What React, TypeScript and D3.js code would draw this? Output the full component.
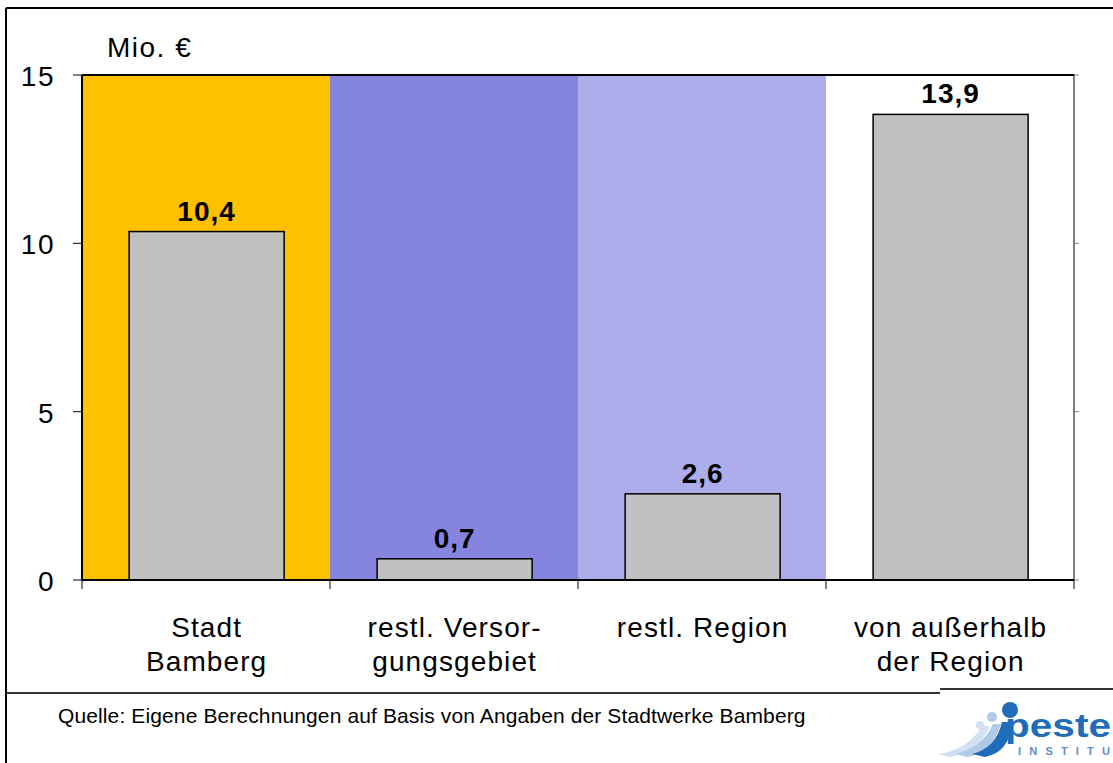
import * as React from 'react';
import * as d3 from 'd3';

// categories, values and band colours
const categories = ['Stadt Bamberg', 'restl. Versorgungsgebiet', 'restl. Region', 'von außerhalb der Region'];
const labelLines = [
  ['Stadt', 'Bamberg'],
  ['restl. Versor-', 'gungsgebiet'],
  ['restl. Region'],
  ['von außerhalb', 'der Region'],
];
// bar heights as drawn (labels are the rounded figures)
const values = [10.35, 0.63, 2.56, 13.83];
const valueLabels = ['10,4', '0,7', '2,6', '13,9'];
const bandColors = ['#FFC000', '#8585E0', '#ADADEB', '#FFFFFF'];
const yTicks = [0, 5, 10, 15];

const font = '"Liberation Sans", Arial, sans-serif';

const App = () => {
  const width = 1113;
  const height = 763;
  const plot = { left: 82, right: 1074, top: 75, bottom: 580 };

  // band scale for the coloured regions, bars sit inside each band
  const x = d3.scaleBand<string>()
    .domain(categories)
    .range([plot.left, plot.right])
    .padding(0);
  const y = d3.scaleLinear()
    .domain([0, 15])
    .range([plot.bottom, plot.top]);
  const barOffset = x.bandwidth() * 0.19;
  const barW = x.bandwidth() * 0.625;
  const mid = (c: string) => (x(c) as number) + barOffset + barW / 2;

  return (
    <svg width={width} height={height} style={{ position: 'absolute', left: 0, top: 0 }}>
      <rect x={0} y={0} width={width} height={height} fill="#fff" />

      {/* outer frame */}
      <line x1={6} x2={width} y1={8} y2={8} stroke="#000" strokeWidth={2} />
      <line x1={6} x2={6} y1={8} y2={height} stroke="#000" strokeWidth={2} />
      <line x1={6} x2={940} y1={693} y2={693} stroke="#333" strokeWidth={2} />
      <line x1={940} x2={width} y1={689} y2={689} stroke="#333" strokeWidth={2} />

      {/* background bands */}
      {categories.map((c, i) => (
        <rect key={c} x={x(c)} y={plot.top} width={x.bandwidth()} height={plot.bottom - plot.top}
          fill={bandColors[i]} />
      ))}

      {/* bars */}
      {categories.map((c, i) => (
        <rect key={c} x={(x(c) as number) + barOffset} y={y(values[i])}
          width={barW} height={plot.bottom - y(values[i])}
          fill="#C0C0C0" stroke="#000" strokeWidth={1.5} />
      ))}

      {/* value labels */}
      {categories.map((c, i) => (
        <text key={c} x={mid(c)} y={y(values[i]) - 11}
          textAnchor="middle" fontFamily={font} fontSize={28} fontWeight="bold" letterSpacing={1}>
          {valueLabels[i]}
        </text>
      ))}

      {/* right axis (grey) */}
      <line x1={plot.right} x2={plot.right} y1={plot.top - 1} y2={plot.bottom} stroke="#808080" strokeWidth={2} />
      {yTicks.map((t) => (
        <line key={t} x1={plot.right} x2={plot.right + 5} y1={y(t)} y2={y(t)} stroke="#808080" strokeWidth={1} />
      ))}

      {/* top line */}
      <line x1={plot.left} x2={plot.right} y1={plot.top} y2={plot.top} stroke="#000" strokeWidth={2} />

      {/* left axis */}
      <line x1={plot.left} x2={plot.left} y1={plot.top} y2={plot.bottom} stroke="#000" strokeWidth={2} />
      {yTicks.map((t) => (
        <g key={t}>
          <line x1={plot.left - 9} x2={plot.left} y1={y(t)} y2={y(t)} stroke="#000" strokeWidth={1} />
          <text x={55} y={y(t) + 11} textAnchor="end" fontFamily={font} fontSize={28} letterSpacing={1.5}>{t}</text>
        </g>
      ))}
      <text x={107} y={57} fontFamily={font} fontSize={28} letterSpacing={1.5}>Mio. €</text>

      {/* x axis */}
      <line x1={plot.left} x2={plot.right} y1={plot.bottom} y2={plot.bottom} stroke="#000" strokeWidth={2} />
      {categories.map((c) => (
        <line key={c} x1={x(c)} x2={x(c)} y1={plot.bottom} y2={plot.bottom + 9} stroke="#000" strokeWidth={1} />
      ))}
      <line x1={plot.right} x2={plot.right} y1={plot.bottom} y2={plot.bottom + 9} stroke="#000" strokeWidth={1} />
      {categories.map((c, i) => (
        <text key={c} x={mid(c)} y={637}
          textAnchor="middle" fontFamily={font} fontSize={28} letterSpacing={1.1}>
          {labelLines[i].map((l, j) => (
            <tspan key={l} x={mid(c)} dy={j === 0 ? 0 : 34}>{l}</tspan>
          ))}
        </text>
      ))}

      {/* source */}
      <text x={58} y={723} fontFamily={font} fontSize={21} letterSpacing={0.12}>
        Quelle: Eigene Berechnungen auf Basis von Angaben der Stadtwerke Bamberg
      </text>

      {/* logo */}
      <g>
        <path d="M938,754 Q968,750 982,726 L990,726 Q978,752 950,757 Z" fill="#D3E0F1" />
        <path d="M955,754 Q982,748 993,724 L1001,724 Q992,753 967,757 Z" fill="#B1CAE8" />
        <path d="M972,754 Q996,748 1002,722 L1012,722 Q1010,752 985,757 Z" fill="#1F6DB8" />
        <circle cx={980} cy={725} r={4} fill="#D3E0F1" />
        <circle cx={992} cy={717} r={5} fill="#B1CAE8" />
        <circle cx={1010} cy={710} r={8} fill="#1F6DB8" />
        <text x={1005} y={737} fontFamily={font} fontSize={33} fontWeight="bold" fill="#1F6DB8"
          textLength={106} lengthAdjust="spacingAndGlyphs">peste</text>
        <text x={1018} y={755} fontFamily={font} fontSize={11} fontWeight="bold" fill="#5B8FD0"
          textLength={92} lengthAdjust="spacing">INSTITU</text>
      </g>
    </svg>
  );
};

export default App;
